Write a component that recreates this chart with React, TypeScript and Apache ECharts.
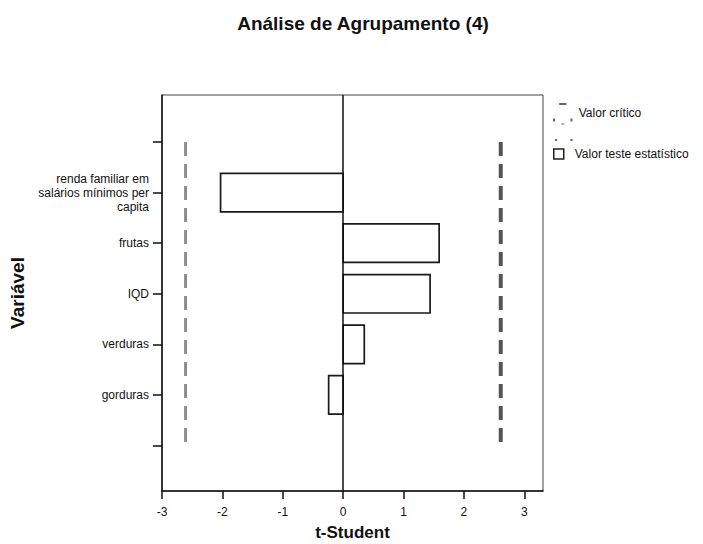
import React, { useEffect, useRef } from "react";
import * as echarts from "echarts";

// Y positions 1..7 (1 and 7 are empty slots)
const yLabels = [
  "",
  "renda familiar em\nsalários mínimos per\ncapita",
  "frutas",
  "IQD",
  "verduras",
  "gorduras",
  "",
];
const variables = ["renda familiar em\nsalários mínimos per\ncapita", "frutas", "IQD", "verduras", "gorduras"];
const tValues = [-2.03, 1.59, 1.44, 0.35, -0.24];
const criticalValue = 2.61;
const xTicks = [-3, -2, -1, 0, 1, 2, 3];
const yTicks = [1, 2, 3, 4, 5, 6, 7];

const FONT = "'Liberation Sans', Arial, sans-serif";

export default function App() {
  const ref = useRef<HTMLDivElement>(null);

  useEffect(() => {
    if (!ref.current) return;
    document.body.style.margin = "0";
    const chart = echarts.init(ref.current, undefined, { renderer: "svg" });

    const barData = variables.map((v, i) => [tValues[i], yLabels.indexOf(v) + 1]);
    const critIcon =
      "path://M7,0H14V2H7Z M1,15H3V18H1Z M18,15H20V18H18Z M9,20H12V21H9Z M3,35H5V37H3Z M18,35H20V37H18Z";

    chart.setOption({
      animation: false,
      backgroundColor: "#ffffff",
      textStyle: { fontFamily: FONT },
      title: {
        text: "Análise de Agrupamento (4)",
        left: 358,
        textAlign: "center",
        top: 9,
        textStyle: { fontFamily: FONT, fontSize: 19, fontWeight: "bold", color: "#111" },
      },
      legend: [
        {
          left: 553,
          top: 103,
          orient: "vertical",
          padding: 0,
          itemWidth: 22,
          itemHeight: 38,
          selectedMode: false,
          formatter: (n: string) => n + "\n ",
          data: [{ name: "Valor crítico", icon: critIcon, itemStyle: { color: "#666", borderWidth: 0 } }],
          textStyle: { fontFamily: FONT, fontSize: 12, lineHeight: 19, color: "#111" },
        },
        {
          left: 553,
          top: 148,
          orient: "vertical",
          padding: 0,
          itemWidth: 22,
          itemHeight: 10,
          selectedMode: false,
          data: [
            {
              name: "Valor teste estatístico",
              icon: "path://M0,0H10V10H0Z",
              itemStyle: { color: "#ffffff", borderColor: "#222", borderWidth: 1.5 },
            },
          ],
          textStyle: { fontFamily: FONT, fontSize: 12, color: "#111" },
        },
      ],
      grid: {
        left: 162,
        right: 160,
        top: 95,
        bottom: 53,
        show: true,
        borderColor: "#444",
        borderWidth: 1,
        backgroundColor: "transparent",
        outerBoundsMode: "none",
        containLabel: false,
      },
      xAxis: {
        type: "value",
        min: -3,
        max: 3.31,
        name: "t-Student",
        nameLocation: "middle",
        nameGap: 33,
        nameTextStyle: { fontFamily: FONT, fontSize: 17, fontWeight: "bold", color: "#111" },
        axisLine: { show: true, onZero: false, lineStyle: { color: "#111", width: 1.5 } },
        axisTick: { show: true, length: 8, customValues: xTicks, lineStyle: { color: "#111", width: 1.5 } },
        axisLabel: {
          customValues: xTicks,
          margin: 15,
          fontFamily: FONT,
          fontSize: 12,
          color: "#111",
          formatter: (v: number) => String(v),
        },
        splitLine: { show: false },
      },
      yAxis: {
        type: "value",
        inverse: true,
        min: 0.07,
        max: 7.9,
        name: "Variável",
        nameLocation: "middle",
        nameGap: 135,
        nameRotate: 90,
        nameTextStyle: { fontFamily: FONT, fontSize: 19, fontWeight: "bold", color: "#111" },
        axisLine: { show: true, onZero: false, lineStyle: { color: "#111", width: 1.5 } },
        axisTick: { show: true, length: 9, customValues: yTicks, lineStyle: { color: "#111", width: 1.5 } },
        axisLabel: {
          customValues: yTicks,
          margin: 13,
          fontFamily: FONT,
          fontSize: 12,
          lineHeight: 14,
          color: "#111",
          align: "right",
          formatter: (v: number) => yLabels[Math.round(v) - 1] ?? "",
        },
        splitLine: { show: false },
      },
      series: [
        {
          name: "Valor crítico",
          type: "line",
          data: [
            [-criticalValue, 1],
            [-criticalValue, 7],
          ],
          showSymbol: false,
          symbol: "none",
          lineStyle: { color: "#8f8f8f", width: 3, type: [14, 8] },
          itemStyle: { color: "#666" },
          silent: true,
          z: 3,
        },
        {
          name: "Valor crítico",
          type: "line",
          data: [
            [criticalValue, 1],
            [criticalValue, 7],
          ],
          showSymbol: false,
          symbol: "none",
          lineStyle: { color: "#555", width: 4, type: [14, 8] },
          itemStyle: { color: "#666" },
          silent: true,
          z: 3,
        },
        {
          name: "Valor teste estatístico",
          type: "custom",
          data: barData,
          encode: { x: 0, y: 1 },
          itemStyle: { color: "#ffffff", borderColor: "#222" },
          renderItem: (params: any, api: any) => {
            const v = api.value(0);
            const y = api.value(1);
            const p0 = api.coord([0, y - 0.38]);
            const p1 = api.coord([v, y + 0.38]);
            return {
              type: "rect",
              shape: {
                x: Math.min(p0[0], p1[0]),
                y: Math.min(p0[1], p1[1]),
                width: Math.abs(p1[0] - p0[0]),
                height: Math.abs(p1[1] - p0[1]),
              },
              style: { fill: "#ffffff", stroke: "#1a1a1a", lineWidth: 1.7 },
            };
          },
          markLine: {
            silent: true,
            symbol: "none",
            label: { show: false },
            lineStyle: { color: "#111", width: 1.5, type: "solid" },
            data: [{ xAxis: 0 }],
          },
          z: 4,
        },
      ],
    });

    return () => chart.dispose();
  }, []);

  return <div ref={ref} style={{ width: 703, height: 544, background: "#fff" }} />;
}
